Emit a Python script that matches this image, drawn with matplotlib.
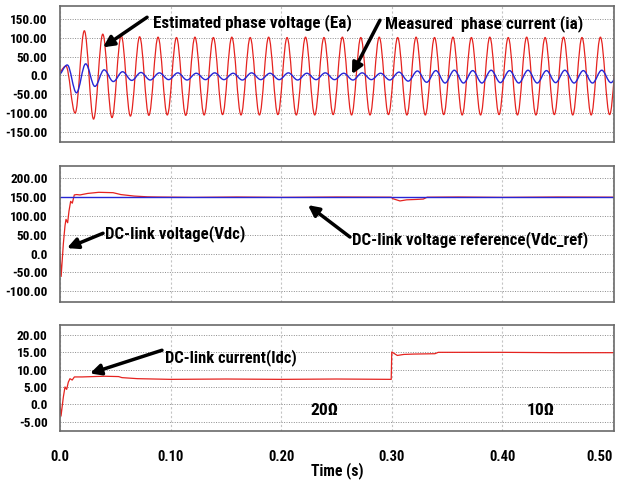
import numpy as np
import matplotlib
matplotlib.use('Agg')
import matplotlib.pyplot as plt
from matplotlib.path import Path
from matplotlib.patches import PathPatch

plt.rcParams['font.family'] = ['Liberation Sans Narrow', 'DejaVu Sans Condensed',
                               'Roboto Condensed', 'Open Sans Condensed',
                               'Liberation Sans', 'DejaVu Sans']
plt.rcParams['font.weight'] = 'bold'

# time axis
time_ticks = [0.0, 0.1, 0.2, 0.3, 0.4, 0.5]
time_labels = ['0.0', '0.10', '0.20', '0.30', '0.40', '0.50']

# panel 1: Ea and ia, 60 Hz, values at successive peaks/troughs (half period apart)
half_period = 1 / 120
ea_t0 = -0.0030
ea_peaks = [0, 25, -100, 119, -116, 110, -112, 106, -108, 103, -106, 102, -105, 101,
            -106, 102, -105, 101, -104, 102, -105, 101, -105, 102, -104, 101, -105, 102,
            -105, 101, -104, 102, -105, 101, -105, 102, -104, 101, -105, 102, -105, 101,
            -104, 102, -105, 101, -105, 102, -104, 101, -105, 102, -105, 101, -104, 102,
            -105, 101, -105, 102, -104, 101]
ia_t0 = -0.0018
ia_peaks = [0, 28, -46, 31, -29, 15, -16, 10, -13, 8, -12, 7, -11, 7, -12, 6, -11, 7,
            -11, 6, -12, 7, -11, 6, -11, 7, -12, 6, -11, 7, -11, 6, -12, 7, -11, 6, -12,
            9, -15, 12, -18, 13, -20, 14, -20, 13, -20, 14, -19, 13, -20, 14, -20, 13,
            -19, 14, -20, 13, -20, 14, -19, 13]
p1_ticks = [150, 100, 50, 0, -50, -100, -150]
p1_labels = ['150.00', '100.00', '50.00', '0.0', '-50.00', '-100.00', '-150.00']

# panel 2: DC-link voltage
vdc_t = [0, 0.001, 0.003, 0.0045, 0.0054, 0.0069, 0.0081, 0.0096, 0.0111, 0.0129, 0.015,
         0.018, 0.025, 0.035, 0.048, 0.055, 0.067, 0.079, 0.088, 0.12, 0.16, 0.2, 0.25,
         0.2995, 0.301, 0.3074, 0.3135, 0.322, 0.3285, 0.332, 0.36, 0.4, 0.45, 0.501]
vdc_v = [0, -61, 26, 74, 91, 82, 113, 139, 134, 156, 157, 156, 160, 163, 162, 157, 153,
         151, 150.5, 149.5, 150.5, 149.5, 150.5, 150, 146, 140, 143, 144, 145, 150, 150.5,
         149.5, 150.5, 150]
vdc_ref_t = [0, 0.501]
vdc_ref_v = [150, 150]
p2_ticks = [200, 150, 100, 50, 0, -50, -100]
p2_labels = ['200.00', '150.00', '100.00', '50.00', '0.0', '-50.00', '-100.00']

# panel 3: DC-link current
idc_t = [0, 0.0009, 0.003, 0.0045, 0.006, 0.0075, 0.009, 0.011, 0.013, 0.02, 0.03, 0.04,
         0.053, 0.056, 0.07, 0.1, 0.15, 0.2, 0.25, 0.2995, 0.3, 0.305, 0.311, 0.32, 0.339,
         0.342, 0.4, 0.45, 0.501]
idc_v = [0.2, -3.4, 2.1, 5.0, 4.3, 6.4, 7.4, 7.0, 7.9, 7.9, 8.0, 8.1, 8.0, 7.7, 7.4, 7.2,
         7.3, 7.2, 7.3, 7.2, 15.1, 14.1, 14.4, 14.5, 14.6, 15.0, 15.0, 14.9, 14.9]
p3_ticks = [20, 15, 10, 5, 0, -5]
p3_labels = ['20.00', '15.00', '10.00', '5.00', '0.0', '-5.00']

RED = '#e5231f'
BLUE = '#2626d6'


def wave(ax, t0, peaks, color, lw):
    # smooth half-cycles between successive extrema
    ts = t0 + half_period * np.arange(len(peaks))
    k = half_period * (1 - 2 / np.pi)
    verts = [(ts[0], peaks[0])]
    codes = [Path.MOVETO]
    for i in range(1, len(peaks)):
        verts += [(ts[i - 1] + k, peaks[i - 1]), (ts[i] - k, peaks[i]), (ts[i], peaks[i])]
        codes += [Path.CURVE4] * 3
    ax.add_patch(PathPatch(Path(verts, codes), fill=False, edgecolor=color, lw=lw))


def style(ax, yticks, ylabels, ylim, show_x=False):
    ax.set_xlim(0, 0.501)
    ax.set_ylim(ylim)
    ax.set_xticks(time_ticks)
    ax.set_xticklabels(time_labels)
    ax.set_yticks(yticks)
    ax.set_yticklabels(ylabels)
    ax.tick_params(axis='y', length=0, pad=9, labelsize=9.5)
    ax.tick_params(axis='x', length=0, pad=14, labelsize=10.5, labelbottom=show_x)
    ax.yaxis.grid(True, ls=(0, (1, 1.5)), color='#8c8c8c', lw=0.7)
    ax.xaxis.grid(True, ls=(0, (2, 2)), color='#c4c4c4', lw=0.8)
    ax.set_axisbelow(True)
    for s in ax.spines.values():
        s.set_color('#6a6a6a')
        s.set_linewidth(1.2)
    if show_x:
        ax.get_xticklabels()[-1].set_ha('right')


def arrow(ax, tip, tail):
    ax.annotate('', xy=tip, xytext=tail,
                arrowprops=dict(arrowstyle='-|>', color='black', lw=2.5,
                                mutation_scale=16, shrinkA=0, shrinkB=0))


fig = plt.figure(figsize=(6.22, 4.83), dpi=100)
ax1 = fig.add_axes([0.0965, 0.706, 0.8907, 0.2816])
ax2 = fig.add_axes([0.0965, 0.3747, 0.8907, 0.2816])
ax3 = fig.add_axes([0.0965, 0.1077, 0.8907, 0.2195])

wave(ax1, ea_t0, ea_peaks, RED, 0.9)
wave(ax1, ia_t0, ia_peaks, BLUE, 1.0)
style(ax1, p1_ticks, p1_labels, (-177, 185))

ax2.plot(vdc_t, vdc_v, color=RED, lw=0.9)
ax2.plot(vdc_ref_t, vdc_ref_v, color=BLUE, lw=1.0)
style(ax2, p2_ticks, p2_labels, (-129, 233))

ax3.plot(idc_t, idc_v, color=RED, lw=0.9)
style(ax3, p3_ticks, p3_labels, (-7.7, 22.9), show_x=True)

# callouts: (axes, text, left edge, centre, arrow tip, arrow tail, width in px)
notes = [
    (ax1, 'Estimated phase voltage (Ea)', (0.0841, 142), (0.0389, 75), (0.0787, 155), 177),
    (ax1, 'Measured  phase current (ia)', (0.2939, 137), (0.264, 3.5), (0.2893, 147), 177),
    (ax2, 'DC-link voltage(Vdc)', (0.0407, 54), (0.0063, 14.5), (0.0389, 54), 125),
    (ax2, 'DC-link voltage reference(Vdc_ref)', (0.264, 36), (0.2242, 129), (0.2622, 44), 210),
    (ax3, 'DC-link current(Idc)', (0.0949, 13.5), (0.0271, 8.9), (0.0922, 15.6), 118),
]
texts = []
for ax, s, pos, tip, tail, width in notes:
    t = ax.text(pos[0], pos[1], s, ha='left', va='center', fontsize=10, fontweight='bold')
    texts.append((t, width))
    arrow(ax, tip, tail)

texts.append((ax3.text(0.226, -1.7, '20Ω', ha='left', va='center', fontsize=11), 25))
texts.append((ax3.text(0.422, -1.7, '10Ω', ha='left', va='center', fontsize=11), 25))
texts.append((fig.text(337 / 622, 1 - 471 / 483, 'Time (s)', ha='center', va='center',
                       fontsize=10), 47))

# scale each text to about the width it takes in the reference
# (a bit wider, since the reference glyphs are taller than this font's)
fig.canvas.draw()
for t, width in texts:
    w = t.get_window_extent().width
    t.set_fontsize(t.get_fontsize() * 1.12 * width / w)

fig.savefig('out.png', dpi=100)
